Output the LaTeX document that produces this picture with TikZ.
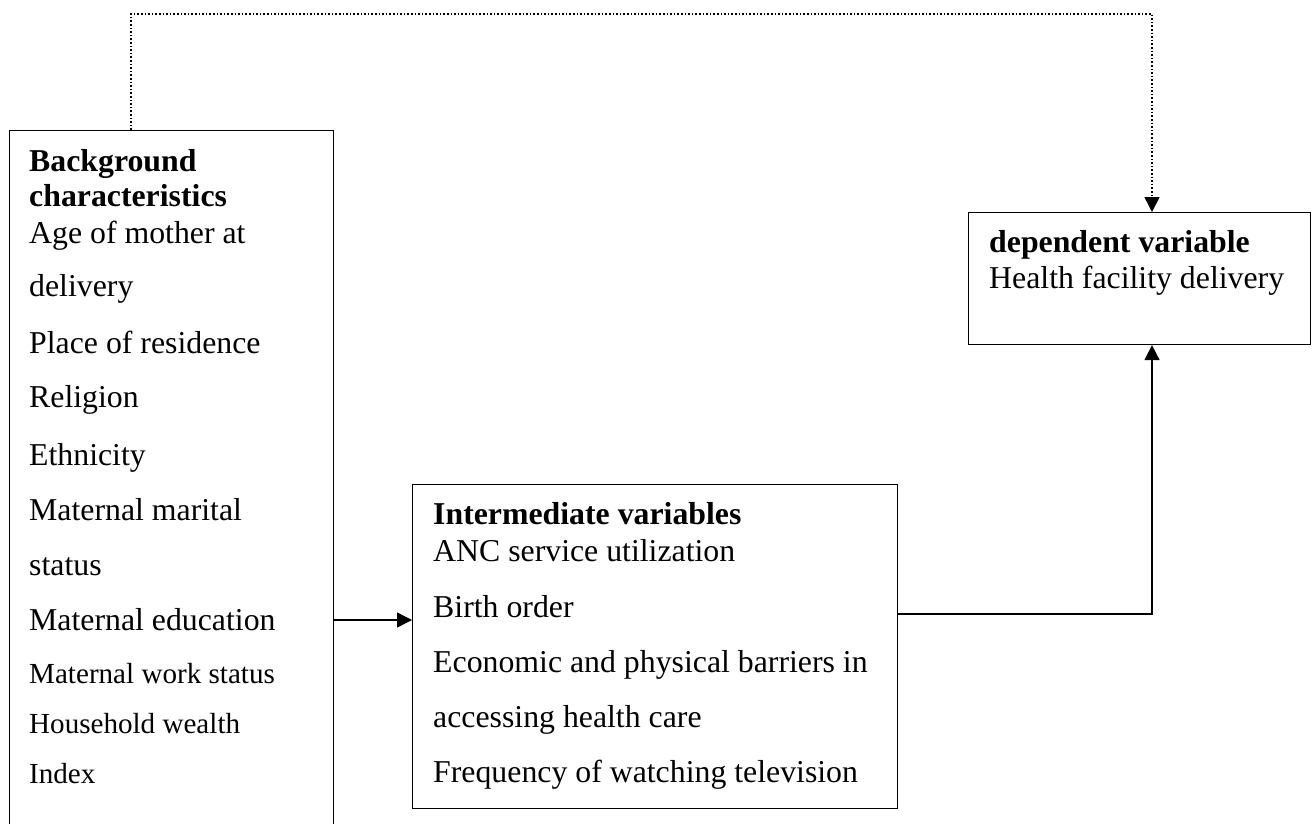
\documentclass[tikz,border=0pt]{standalone}
\usepackage{fontspec}
\setmainfont{Liberation Serif}
\usetikzlibrary{arrows.meta}
\tikzset{
  box/.style={draw=black, line width=1.1pt, rectangle, inner sep=0pt, anchor=north west},
  txt/.style={anchor=base west, inner sep=0pt, font=\fontsize{31.8}{36}\selectfont},
  btxt/.style={txt, font=\fontsize{31.8}{36}\selectfont\bfseries},
  stxt/.style={txt, font=\fontsize{29.1}{33}\selectfont},
  arr/.style={line width=1.5pt, -{Triangle[length=15pt,width=15pt]}},
  dotarr/.style={line width=1.6pt, dotted, -{Triangle[length=15pt,width=15pt]}}
}
\begin{document}
\begin{tikzpicture}[x=1pt,y=-1pt]
\useasboundingbox (0,0) rectangle (1316,823);
% boxes
\node[box, minimum width=324pt, minimum height=740pt] (bg) at (9,130) {};
\node[box, minimum width=485pt, minimum height=324pt] (inter) at (412,484) {};
\node[box, minimum width=342pt, minimum height=132pt] (dep) at (968,212) {};
% left box text
\node[btxt] (b1) at (29,171) {Background};
\node[btxt] (b2) at (29,206) {characteristics};
\node[txt] (b3) at (29,243) {Age of mother at};
\node[txt] (b4) at (29,296) {delivery};
\node[txt] (b5) at (29,353) {Place of residence};
\node[txt] (b6) at (29,407) {Religion};
\node[txt] (b7) at (29,465) {Ethnicity};
\node[txt] (b8) at (29,520) {Maternal marital};
\node[txt] (b9) at (29,575) {status};
\node[txt] (b10) at (29,630) {Maternal education};
\node[stxt] (b11) at (29,683) {Maternal work status};
\node[stxt] (b12) at (29,733) {Household wealth};
\node[stxt] (b13) at (29,783) {Index};
% middle box text
\node[btxt] (m1) at (433,524) {Intermediate variables};
\node[txt] (m2) at (433,561) {ANC service utilization};
\node[txt] (m3) at (433,617) {Birth order};
\node[txt] (m4) at (433,672) {Economic and physical barriers in};
\node[txt] (m5) at (433,727) {accessing health care};
\node[txt] (m6) at (433,782) {Frequency of watching television};
% right box text
\node[btxt] (d1) at (989,252) {dependent variable};
\node[txt] (d2) at (989,288) {Health facility delivery};
% connectors
\coordinate (p1) at (131,14);
\coordinate (p2) at (1152,14);
\draw[dotarr] (p1 |- bg.north) -- (p1) -- (p2) -- (p2 |- dep.north);
\coordinate (q) at (0,620);
\draw[arr] (q -| bg.east) -- (q -| inter.west);
\coordinate (r) at (1152,614);
\draw[arr] (r -| inter.east) -- (r) -- (r |- dep.south);
\end{tikzpicture}
\end{document}
